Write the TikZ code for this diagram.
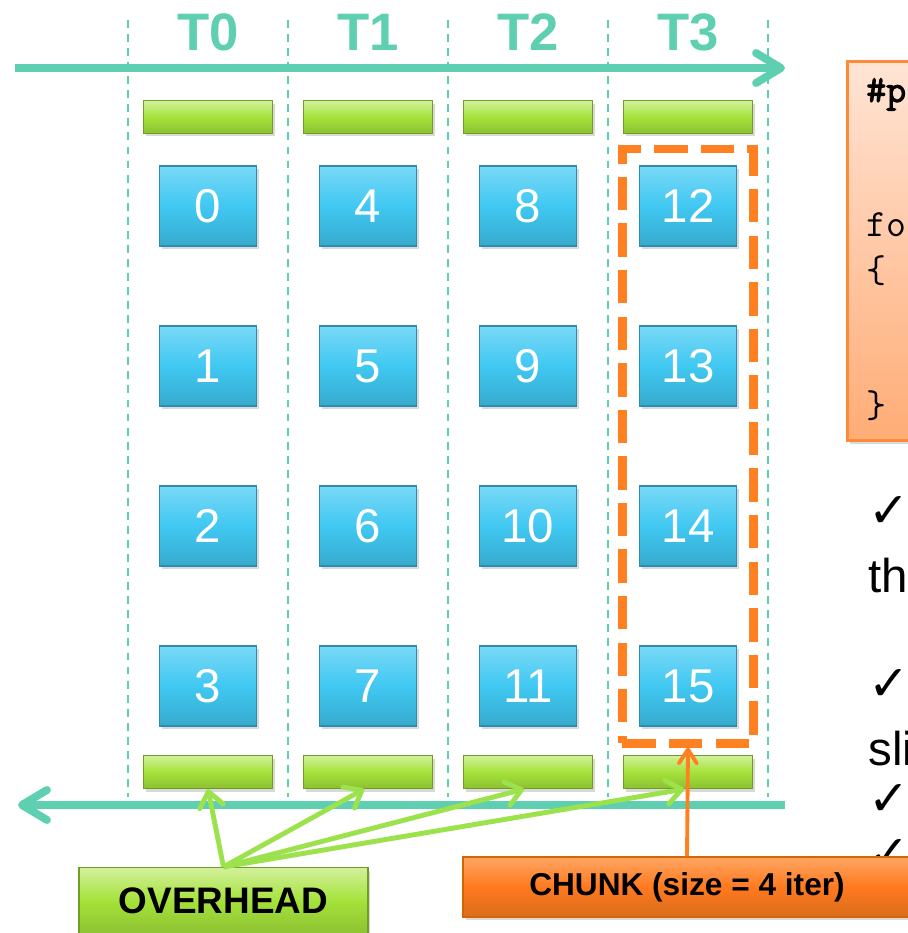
\documentclass[tikz,border=0pt]{standalone}
\usepackage{fontspec}
\setmainfont{Liberation Sans}
\newfontfamily\checkfont{DejaVu Sans}
\newfontfamily\codebold{Latin Modern Mono}[FakeBold=2.5]
\usetikzlibrary{arrows.meta, positioning, fit, shadows}
\definecolor{thread}{HTML}{5ECFB1}
\definecolor{iterc}{HTML}{40C8F2}
\definecolor{iterline}{HTML}{2E8CAE}
\definecolor{ovhc}{HTML}{A5E23A}
\definecolor{ovhline}{HTML}{6E9E22}
\definecolor{ovharrow}{HTML}{9CE24C}
\definecolor{chunkc}{HTML}{FF8020}
\definecolor{chunkline}{HTML}{D86400}
\definecolor{codeline}{HTML}{FF8A3A}
\definecolor{codetop}{HTML}{FFE4D5}
\definecolor{codebot}{HTML}{FFAC76}
\tikzset{
  boxshadow/.style={drop shadow={shadow xshift=0.05cm, shadow yshift=-0.06cm, opacity=0.3}},
  iter/.style     ={draw=iterline, line width=0.7pt, top color=iterc!70!white,
                    bottom color=iterc!85!black, middle color=iterc,
                    minimum width=1.94cm, minimum height=1.6cm, inner sep=0pt,
                    text=white, font=\fontsize{27}{30}\selectfont, boxshadow},
  bar/.style      ={draw=ovhline, line width=0.7pt, top color=ovhc!50!white,
                    bottom color=ovhc!85!black, middle color=ovhc,
                    minimum width=2.58cm, minimum height=0.66cm, inner sep=0pt, boxshadow},
  tlabel/.style   ={font=\bfseries\fontsize{30}{32}\selectfont, text=thread,
                    anchor=base, inner sep=0pt},
  sep/.style      ={draw=thread, line width=1.1pt, dash pattern=on 4.5pt off 3.5pt},
  timeline/.style ={draw=thread, line width=4.5pt,
                    -{Straight Barb[length=0.5cm, width=0.6cm, round]}},
  ovhflow/.style  ={draw=ovharrow, line width=2.8pt,
                    -{Straight Barb[length=0.3cm, width=0.48cm, round]}},
  chunkflow/.style={draw=chunkc, line width=2.2pt,
                    -{Straight Barb[length=0.28cm, width=0.36cm, round]}},
  chunkbox/.style ={draw=chunkc, line width=5pt, dash pattern=on 19pt off 7.5pt,
                    inner sep=0.33cm},
  ovhtag/.style   ={bar, minimum width=5.78cm, minimum height=1.34cm,
                    font=\bfseries\fontsize{21}{24}\selectfont},
  chunktag/.style ={draw=chunkline, line width=0.7pt, top color=chunkc!70!white,
                    bottom color=chunkc!85!black, middle color=chunkc!95!red,
                    minimum width=8.96cm, minimum height=1.2cm, inner sep=0pt,
                    font=\bfseries\fontsize{18}{21}\selectfont, boxshadow},
  codebox/.style  ={draw=codeline, line width=1.7pt, top color=codetop,
                    bottom color=codebot, minimum width=2.32cm, minimum height=7.6cm,
                    boxshadow},
  code/.style     ={font=\ttfamily\fontsize{22}{25}\selectfont, anchor=base west, inner sep=0pt},
  note/.style     ={font=\fontsize{27}{30}\selectfont, anchor=base west, inner sep=0pt},
  tick/.style     ={font=\checkfont\bfseries\fontsize{28}{30}\selectfont, anchor=base west, inner sep=0pt}
}
\begin{document}
\begin{tikzpicture}[x=0.02cm, y=-0.02cm]
  \useasboundingbox (0,0) rectangle (908,933);

  % thread columns
  \draw[sep] (128,20) -- (128,797);
  \draw[sep] (288,20) -- (288,797);
  \draw[sep] (448,20) -- (448,797);
  \draw[sep] (608,20) -- (608,797);
  \draw[sep] (768,20) -- (768,797);

  \coordinate (forkl) at (15,68);
  \coordinate (forkr) at (785,68);
  \coordinate (joinr) at (785,805);
  \coordinate (joinl) at (18,805);
  \draw[timeline] (forkl) -- (forkr);
  \draw[timeline] (joinr) -- (joinl);

  \node[tlabel] (t0) at (208,51) {T0};
  \node[tlabel] (t1) at (368,51) {T1};
  \node[tlabel] (t2) at (528,51) {T2};
  \node[tlabel] (t3) at (688,51) {T3};

  \node[bar] (top0) at (208,117) {};
  \node[bar] (top1) at (368,117) {};
  \node[bar] (top2) at (528,117) {};
  \node[bar] (top3) at (688,117) {};

  % iterations
  \node[iter] (i0)  at (208,206) {0};
  \node[iter] (i1)  at (208,366) {1};
  \node[iter] (i2)  at (208,526) {2};
  \node[iter] (i3)  at (208,686) {3};
  \node[iter] (i4)  at (368,206) {4};
  \node[iter] (i5)  at (368,366) {5};
  \node[iter] (i6)  at (368,526) {6};
  \node[iter] (i7)  at (368,686) {7};
  \node[iter] (i8)  at (528,206) {8};
  \node[iter] (i9)  at (528,366) {9};
  \node[iter] (i10) at (528,526) {10};
  \node[iter] (i11) at (528,686) {11};
  \node[iter] (i12) at (688,206) {12};
  \node[iter] (i13) at (688,366) {13};
  \node[iter] (i14) at (688,526) {14};
  \node[iter] (i15) at (688,686) {15};

  \node[bar] (bot0) at (208,772) {};
  \node[bar] (bot1) at (368,772) {};
  \node[bar] (bot2) at (528,772) {};
  \node[bar] (bot3) at (688,772) {};

  \node[chunkbox, fit=(i12)(i15)] (chunk) {};

  % code and notes on the right
  \node[codebox] (code) at (905,251) {};
  \node[code] (pragma) at (866,102) {\codebold \#p};
  \node[code] (forl)   at (866,236) {fo};
  \node[code] (open)   at (866,282) {\{};
  \node[code] (close)  at (866,417) {\}};

  \node[tick] (c1) at (868,527) {✓};
  \node[note] (n1) at (868,592) {th};
  \node[tick] (c2) at (868,700) {✓};
  \node[note] (n2) at (868,765) {sli};
  \node[tick] (c3) at (868,815) {✓};
  \node[tick] (c4) at (868,870) {✓};

  \node[ovhtag]   (ovh)  at (223.5,901) {OVERHEAD};
  \node[chunktag] (size) at (687,887)   {CHUNK (size = 4 iter)};

  \draw[ovhflow] (ovh.north) -- (bot0.south);
  \draw[ovhflow] (ovh.north) -- ([xshift=-0.08cm]bot1.south);
  \draw[ovhflow] (ovh.north) -- ([xshift=-0.08cm]bot2.south);
  \draw[ovhflow] (ovh.north) -- ([xshift=-0.08cm]bot3.south);
  \draw[chunkflow] (size.north) -- (chunk.south);
\end{tikzpicture}
\end{document}
